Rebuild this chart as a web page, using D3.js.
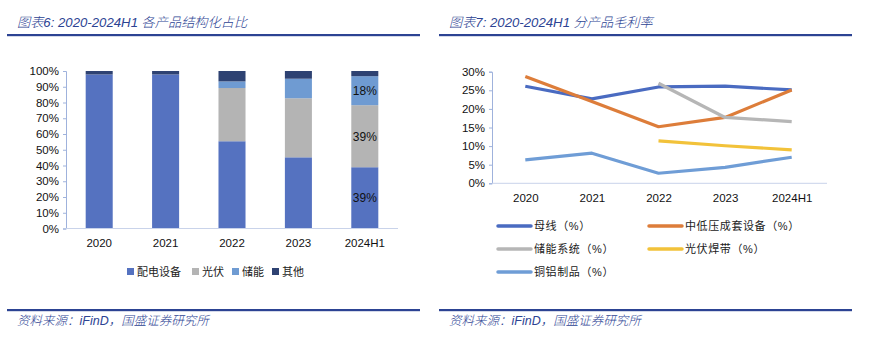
<!DOCTYPE html>
<html><head><meta charset="utf-8">
<script src="https://cdn.jsdelivr.net/npm/d3@7"></script>
<style>
html,body{margin:0;padding:0;background:#fff;}
svg{display:block;}
text{font-family:"Liberation Sans","Noto Sans CJK SC",sans-serif;}
</style></head><body>
<svg id="c" width="885" height="340"></svg>
<script>
// ---------- data: chart 6 (structure) ----------
const years = ["2020","2021","2022","2023","2024H1"];
const structSeries = ["配电设备","光伏","储能","其他"];
const distEquip = [97.8, 97.8, 55.4, 45.2, 38.9];
const pvShare   = [0, 0, 33.8, 37.5, 39.4];
const storShare = [0, 0, 4.2, 12.4, 18.4];
const otherShare= [2.2, 2.2, 6.6, 4.9, 3.3];
const structLabels = [null,null,null,null,[ "39%","39%","18%",null ]];
const pctTicks = [0,10,20,30,40,50,60,70,80,90,100];

// ---------- data: chart 7 (gross margin) ----------
const busbar   = [26.1, 22.7, 25.9, 26.1, 25.1];
const mvlv     = [28.7, 22.0, 15.2, 17.7, 25.1];
const storage  = [null, null, 26.9, 17.7, 16.6];
const pvRibbon = [null, null, 11.4, 10.1, 9.0];
const cuAl     = [6.3, 8.1, 2.7, 4.3, 7.0];
const marginSeries = ["母线（%）","中低压成套设备（%）","储能系统（%）","光伏焊带（%）","铜铝制品（%）"];
const marginTicks = [0,5,10,15,20,25,30];

const svg = d3.select("#c");
const navy = "#2c4393";

// headers / footers
function frame(x0, x1, title, tx){
  svg.append("text").attr("x",tx).attr("y",27).attr("fill",navy)
    .attr("font-size",13.2).attr("font-style","italic").attr("font-weight",300).text(title);
  svg.append("rect").attr("x",x0).attr("y",34).attr("width",x1-x0).attr("height",2.2).attr("fill",navy);
  svg.append("rect").attr("x",x0).attr("y",309).attr("width",x1-x0).attr("height",2.2).attr("fill",navy);
  svg.append("text").attr("x",tx).attr("y",325).attr("fill",navy)
    .attr("font-size",12.5).attr("font-style","italic").attr("font-weight",300).text("资料来源：iFinD，国盛证券研究所");
}
frame(7,420,"图表6:  2020-2024H1 各产品结构化占比",17);
frame(439,852,"图表7:  2020-2024H1 分产品毛利率",449);

// ---------- chart 6 ----------
const structCols = ["#5572c0","#b4b4b4","#6f9bd2","#2e4272"];
const x1 = d3.scaleBand().domain(years).range([66,398]).paddingInner(0.593).paddingOuter(0.2965);
const y1 = d3.scaleLinear().domain([0,100]).range([228.5,71]);
const g1 = svg.append("g");
const stackData = years.map((yr,i)=>({year:yr,"配电设备":distEquip[i],"光伏":pvShare[i],"储能":storShare[i],"其他":otherShare[i]}));
const stacked = d3.stack().keys(structSeries)(stackData);
stacked.forEach((s,si)=>{
  g1.selectAll(null).data(s).join("rect")
    .attr("x",d=>x1(d.data.year)).attr("width",x1.bandwidth())
    .attr("y",d=>y1(d[1])).attr("height",d=>Math.max(0,y1(d[0])-y1(d[1])))
    .attr("fill",structCols[si]);
});
stacked.forEach((s,si)=>{
  s.forEach((d,i)=>{
    const lab = structLabels[i] && structLabels[i][si];
    if(lab){
      g1.append("text").attr("x",x1(d.data.year)+x1.bandwidth()/2).attr("y",(y1(d[0])+y1(d[1]))/2+4.5)
        .attr("text-anchor","middle").attr("font-size",12).attr("fill","#111").text(lab);
    }
  });
});
// axes
const ya1 = d3.axisLeft(y1).tickValues(pctTicks).tickFormat(d=>d+"%").tickSize(3).tickPadding(4);
const ay1 = g1.append("g").attr("transform","translate(66,0)").call(ya1);
ay1.select(".domain").attr("stroke","#9fb2dc");
ay1.selectAll(".tick line").attr("stroke","#9fb2dc");
ay1.selectAll("text").attr("font-size",11.5).attr("fill","#111").attr("font-family","Liberation Sans");
g1.append("line").attr("x1",66).attr("x2",398).attr("y1",228.5).attr("y2",228.5).attr("stroke","#c9d3ea").attr("stroke-width",1);
const xa1 = d3.axisBottom(x1).tickSize(0).tickPadding(10);
const ax1 = g1.append("g").attr("transform","translate(0,228.5)").call(xa1);
ax1.select(".domain").remove();
ax1.selectAll("text").attr("font-size",11.5).attr("fill","#111").attr("font-family","Liberation Sans");
// legend
const legX = [127,192,232,272];
structSeries.forEach((n,i)=>{
  svg.append("rect").attr("x",legX[i]).attr("y",268).attr("width",7).attr("height",7).attr("fill",structCols[i]);
  svg.append("text").attr("x",legX[i]+10).attr("y",275.5).attr("font-size",11).attr("fill","#222").text(n);
});

// ---------- chart 7 ----------
const lineCols = ["#4a6bc1","#dd7d3a","#b6b6b6","#f2c23a","#6f9dd6"];
const lineData = [busbar,mvlv,storage,pvRibbon,cuAl];
const x2 = d3.scalePoint().domain(years).range([525.3,791.7]);
const y2 = d3.scaleLinear().domain([0,30]).range([183.3,71.7]);
const g2 = svg.append("g");
const ya2 = d3.axisLeft(y2).tickValues(marginTicks).tickFormat(d=>d+"%").tickSize(3).tickPadding(4);
const ay2 = g2.append("g").attr("transform","translate(492,0)").call(ya2);
ay2.select(".domain").attr("stroke","#9fb2dc");
ay2.selectAll(".tick line").attr("stroke","#9fb2dc");
ay2.selectAll("text").attr("font-size",11.5).attr("fill","#111").attr("font-family","Liberation Sans");
g2.append("line").attr("x1",492).attr("x2",827).attr("y1",183.3).attr("y2",183.3).attr("stroke","#c9d3ea");
const xa2 = d3.axisBottom(x2).tickSize(0).tickPadding(11);
const ax2 = g2.append("g").attr("transform","translate(0,183.3)").call(xa2);
ax2.select(".domain").remove();
ax2.selectAll("text").attr("font-size",11.5).attr("fill","#111").attr("font-family","Liberation Sans");
const line = d3.line().defined(d=>d.v!=null).x(d=>x2(d.y)).y(d=>y2(d.v));
const drawOrder = [4,3,0,1,2];
drawOrder.forEach(si=>{
  const pts = years.map((yr,i)=>({y:yr,v:lineData[si][i]}));
  g2.append("path").attr("d",line(pts)).attr("fill","none")
    .attr("stroke",lineCols[si]).attr("stroke-width",3.2).attr("stroke-linejoin","round");
});
// legend
const legPos = [[498,226],[649,226],[498,249],[649,249],[498,272]];
marginSeries.forEach((n,i)=>{
  const [lx,ly] = legPos[i];
  svg.append("line").attr("x1",lx).attr("x2",lx+33).attr("y1",ly).attr("y2",ly)
    .attr("stroke",lineCols[i]).attr("stroke-width",3.5).attr("stroke-linecap","round");
  svg.append("text").attr("x",lx+36).attr("y",ly+4).attr("font-size",11).attr("fill","#222")
    .attr("letter-spacing",0.6).text(n);
});
</script>
</body></html>
